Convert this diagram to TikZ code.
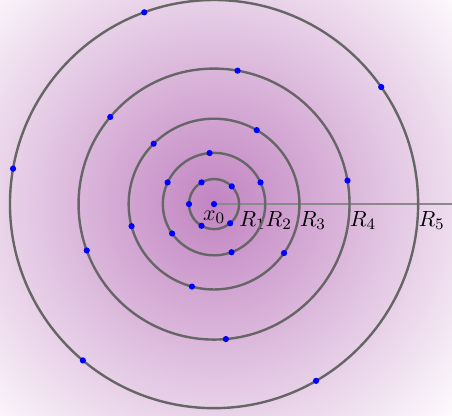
\documentclass[tikz,border=0pt]{standalone}
\usepackage{amsmath}
\usetikzlibrary{positioning}
\definecolor{RingGray}{HTML}{666666}
\definecolor{AxisGray}{HTML}{8A8A8A}
\definecolor{DotBlue}{HTML}{0000FF}

\begin{document}
\begin{tikzpicture}[
    font=\fontsize{11}{13}\selectfont,
    ring/.style={draw=RingGray, line width=1.2pt},
    axis/.style={draw=AxisGray, line width=0.9pt},
    dot/.style={circle, fill=DotBlue, inner sep=0pt, minimum size=3.1pt},
    lab/.style={anchor=north west, inner xsep=0pt},
  ]
    % =================== background ===================
    \begin{scope}
      \clip (-3.76,-3.71) rectangle (4.18,3.585);
      \shade[inner color=violet!48, outer color=white] (0,0) circle (5.8);
    \end{scope}
    \useasboundingbox (-3.76,-3.71) rectangle (4.18,3.585);

    % =================== rings and radius ===================
    \coordinate (x0) at (0,0);
    \coordinate (edge) at (4.18,0);
    \draw[axis] (x0) -- (edge);
    \foreach \r/\n in {0.44/1, 0.9/2, 1.5/3, 2.38/4, 3.585/5} {
      \draw[ring] (x0) circle (\r);
      \node[lab] (rlab\n) at (\r,0) {$R_\n$};
    }
    \node[below] (x0lab) at (x0) {$x_0$};

    % =================== points ===================
    \node[dot] (centre) at (x0) {};
    \foreach \r/\n/\angs in {0.44/1/{45,120,180,240,310},
                             0.9/2/{25,95,155,215,290},
                             1.5/3/{60,135,195,255,325},
                             2.38/4/{10,80,140,200,275},
                             3.585/5/{35,110,170,230,300}}
      \foreach \a [count=\k] in \angs
        \node[dot] (p\n-\k) at (\a:\r) {};
  \end{tikzpicture}
\end{document}
